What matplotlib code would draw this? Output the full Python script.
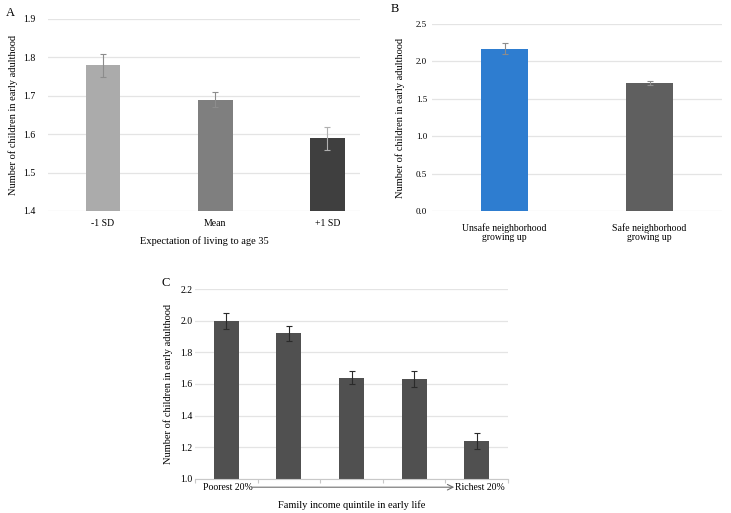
import numpy as np
import matplotlib.pyplot as plt

plt.rcParams['font.family'] = ['Liberation Serif', 'DejaVu Serif']

# Panel A
a_labels = ['-1 SD', 'Mean', '+1 SD']
a_values = [1.78, 1.69, 1.59]
a_err = [0.03, 0.02, 0.03]
a_colors = ['#ababab', '#7f7f7f', '#3f3f3f']

# Panel B
b_labels = ['Unsafe neighborhood\ngrowing up', 'Safe neighborhood\ngrowing up']
b_values = [2.17, 1.71]
b_err = [0.07, 0.03]
b_colors = ['#2e7dd0', '#5f5f5f']

# Panel C
c_values = [2.00, 1.92, 1.64, 1.63, 1.24]
c_err = [0.05, 0.045, 0.04, 0.05, 0.05]

ylab = 'Number of children in early adulthood'
grid_col = '#e4e4e4'

fig = plt.figure(figsize=(7.31, 5.13), dpi=100)


def style(ax):
    for s in ax.spines.values():
        s.set_visible(False)
    ax.yaxis.grid(True, color=grid_col, lw=0.9)
    ax.set_axisbelow(True)
    ax.tick_params(length=0, labelsize=7)


# --- A ---
axA = fig.add_axes([0.0657, 0.5887, 0.4268, 0.3743])
xa = np.arange(len(a_values))
axA.bar(xa, a_values, width=0.31, color=a_colors, bottom=0)
for i in range(len(xa)):
    axA.errorbar(xa[i], a_values[i], yerr=a_err[i], fmt='none',
                 ecolor='#8c8c8c' if i < 2 else '#b0b0b0', elinewidth=0.8, capsize=2.5, capthick=0.8)
axA.set_ylim(1.4, 1.9)
axA.set_yticks(np.arange(1.4, 1.91, 0.1))
axA.set_yticklabels(['%.1f' % v for v in np.arange(1.4, 1.91, 0.1)])
axA.set_xlim(-0.49, 2.29)
axA.set_xticks(xa)
axA.set_xticklabels(a_labels)
style(axA)
axA.tick_params(axis='x', pad=6)
axA.tick_params(axis='y', pad=9)
axA.set_xlabel('Expectation of living to age 35', fontsize=7.5, labelpad=6)
axA.set_ylabel(ylab, fontsize=7.5, labelpad=4)
fig.text(0.008, 0.975, 'A', fontsize=9, va='center')

# --- B ---
axB = fig.add_axes([0.591, 0.5887, 0.3967, 0.3645])
xb = np.arange(len(b_values))
axB.bar(xb, b_values, width=0.32, color=b_colors)
axB.errorbar(xb, b_values, yerr=b_err, fmt='none', ecolor='#8c8c8c',
             elinewidth=0.8, capsize=2, capthick=0.8)
axB.set_ylim(0, 2.5)
axB.set_yticks(np.arange(0, 2.51, 0.5))
axB.set_yticklabels(['%.1f' % v for v in np.arange(0, 2.51, 0.5)])
axB.set_xlim(-0.5, 1.5)
axB.set_xticks(xb)
axB.set_xticklabels(b_labels, fontsize=6, linespacing=1.0)
style(axB)
axB.tick_params(axis='y', labelsize=6.5)
axB.tick_params(axis='x', pad=9)
axB.set_ylabel(ylab, fontsize=7.5, labelpad=8)
fig.text(0.535, 0.983, 'B', fontsize=9, va='center')

# --- C ---
axC = fig.add_axes([0.2668, 0.0669, 0.4282, 0.3692])
xc = np.arange(len(c_values))
axC.bar(xc, c_values, width=0.4, color='#505050')
axC.errorbar(xc, c_values, yerr=c_err, fmt='none', ecolor='#2a2a2a',
             elinewidth=0.8, capsize=2, capthick=0.8)
axC.set_ylim(1.0, 2.2)
axC.set_yticks(np.arange(1.0, 2.21, 0.2))
axC.set_yticklabels(['%.1f' % v for v in np.arange(1.0, 2.21, 0.2)])
axC.set_xlim(-0.5, 4.5)
style(axC)
axC.tick_params(axis='y', pad=2)
axC.spines['bottom'].set_visible(True)
axC.spines['bottom'].set_color('#c8c8c8')
axC.set_xticks(np.arange(-0.5, 4.51, 1.0))
axC.set_xticklabels([])
axC.tick_params(axis='x', length=3, color='#c8c8c8', direction='out')
axC.text(-0.38, -0.045, 'Poorest 20%', transform=axC.get_xaxis_transform(),
         fontsize=7, va='center', ha='left')
axC.text(4.45, -0.045, 'Richest 20%', transform=axC.get_xaxis_transform(),
         fontsize=7, va='center', ha='right')
axC.annotate('', xy=(3.64, -0.045), xytext=(0.41, -0.045),
             xycoords=axC.get_xaxis_transform(), textcoords=axC.get_xaxis_transform(),
             arrowprops=dict(arrowstyle='->', color='#707070', lw=0.8, shrinkA=0, shrinkB=0))
axC.set_xlabel('Family income quintile in early life', fontsize=7.5)
axC.xaxis.set_label_coords(0.5, -0.115)
axC.set_ylabel(ylab, fontsize=7.5, labelpad=5)
fig.text(0.221, 0.448, 'C', fontsize=9, va='center')

fig.savefig('out.png', dpi=100)
